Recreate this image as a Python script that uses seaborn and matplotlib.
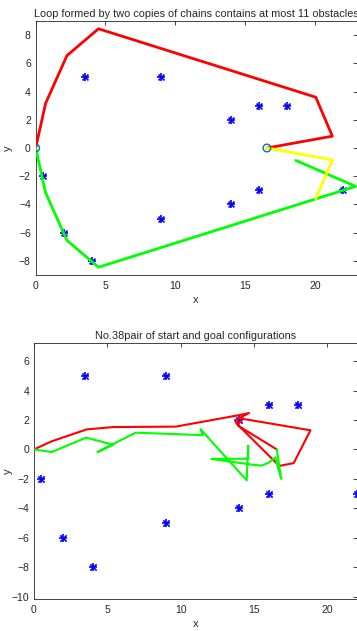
import matplotlib
matplotlib.use("Agg")
import matplotlib.pyplot as plt
import seaborn as sns
import pandas as pd

sns.set_theme(style="white")
plt.rcParams['font.family'] = ['Liberation Sans', 'DejaVu Sans']

# ---- data ----
obs_x = [3.5, 9, 14, 16, 18, 0.5, 2, 4, 9, 14, 16, 22]
obs_y = [5, 5, 2, 3, 3, -2, -6, -8, -5, -4, -3, -3]

top_red_x = [0, 0.71, 2.24, 4.5, 20.07, 21.26, 16.57]
top_red_y = [0, 3.17, 6.55, 8.45, 3.6, 0.84, 0]
top_green_x = [0, 0.71, 2.24, 4.5, 22.93, 18.64]
top_green_y = [0, -3.17, -6.55, -8.45, -2.72, -0.88]
top_yellow_x = [16.57, 21.26, 20.07]
top_yellow_y = [0, -0.84, -3.6]
circ_x = [0, 16.57]
circ_y = [0, 0]

bot_red_x = [0, 1.2, 3.59, 5.4, 9.66, 13.93, 14.66, 13.7, 13.82, 16.72, 17.7, 18.85, 14.16, 13.9, 16.55]
bot_red_y = [0, 0.55, 1.36, 1.52, 1.55, 2.32, 2.47, 1.98, 1.75, -1.12, -0.93, 1.3, 2.09, 1.62, 0.0]
bot_green_x = [0, 1.2, 3.55, 5.41, 4.32, 6.93, 11.5, 11.35, 14.5, 14.6, 14.6, 12.1, 15.0, 15.5, 16.0, 16.45, 16.85, 16.55]
bot_green_y = [0, -0.18, 0.8, 0.32, -0.18, 1.14, 0.97, 1.38, -2.1, 0.25, -0.63, -0.65, -1.05, -1.1, -0.9, -0.55, -2.0, 0.0]

top_title = "Loop formed by two copies of chains contains at most 11 obstacles"
bot_title = "No.38pair of start and goal configurations"

fig = plt.figure(figsize=(3.57, 6.31), dpi=100)
ax1 = fig.add_axes([0.100, 0.5642, 0.899, 0.4025])
ax2 = fig.add_axes([0.0952, 0.0507, 0.904, 0.4062])

def obstacles(ax, s):
    df = pd.DataFrame({"x": obs_x, "y": obs_y})
    sns.scatterplot(data=df, x="x", y="y", ax=ax, marker="+", color=(0, 0, 1), s=s, linewidth=1.2, zorder=3)
    sns.scatterplot(data=df, x="x", y="y", ax=ax, marker="x", color=(0, 0, 1), s=s*0.6, linewidth=1.2, zorder=3)

def line(ax, xs, ys, color, lw):
    sns.lineplot(x=xs, y=ys, sort=False, estimator=None, ax=ax, color=color, linewidth=lw, zorder=4)

# top
obstacles(ax1, 30)
line(ax1, top_red_x, top_red_y, (1, 0, 0), 2.0)
line(ax1, top_green_x, top_green_y, (0, 1, 0), 2.0)
line(ax1, top_yellow_x, top_yellow_y, (1, 1, 0), 2.0)
sns.scatterplot(x=circ_x, y=circ_y, ax=ax1, marker="o", facecolor="none", edgecolor="#0072BD", s=30, linewidth=1.0, zorder=5)
ax1.set_xlim(0, 23)
ax1.set_ylim(-9, 9)
ax1.set_xticks([0, 5, 10, 15, 20])
ax1.set_yticks([-8, -6, -4, -2, 0, 2, 4, 6, 8])
ax1.set_title(top_title, fontsize=7.85, pad=3)

# bottom
obstacles(ax2, 34)
line(ax2, bot_red_x, bot_red_y, (1, 0, 0), 1.5)
line(ax2, bot_green_x, bot_green_y, (0, 1, 0), 1.5)
ax2.set_xlim(0, 22)
ax2.set_ylim(-10.16, 7.25)
ax2.set_xticks([0, 5, 10, 15, 20])
ax2.set_yticks([-10, -8, -6, -4, -2, 0, 2, 4, 6])
ax2.set_title(bot_title, fontsize=7.85, pad=3)

for ax, ylx in ((ax1, -0.072), (ax2, -0.066)):
    ax.set_xlabel("x", fontsize=8, color=(0.15, 0.15, 0.15), labelpad=3)
    ax.set_ylabel("y", fontsize=8, color=(0.15, 0.15, 0.15))
    ax.yaxis.set_label_coords(ylx, 0.5)
    ax.tick_params(direction="in", length=3, width=0.6, labelsize=7.5,
                   colors=(0.15, 0.15, 0.15), top=True, right=True)
    ax.tick_params(axis="x", pad=4.5)
    ax.tick_params(axis="y", pad=3.5)
    for sp in ax.spines.values():
        sp.set_color((0.15, 0.15, 0.15))
        sp.set_linewidth(0.6)
    ax.set_facecolor("white")

fig.savefig("out.png", dpi=100)
